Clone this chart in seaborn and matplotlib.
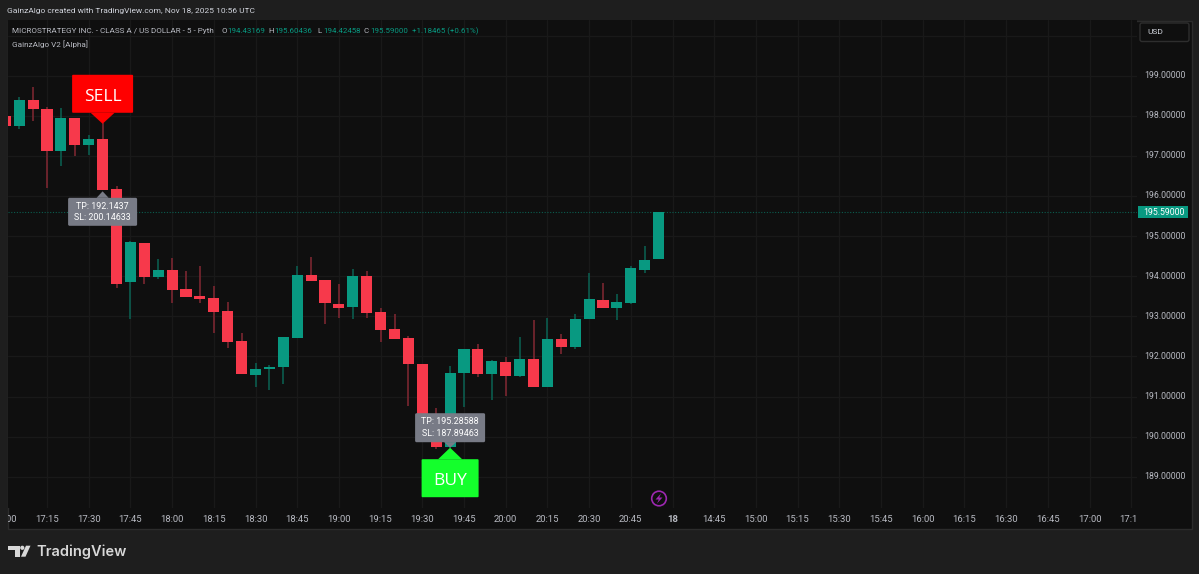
import numpy as np
import pandas as pd
import matplotlib
matplotlib.use("Agg")
import matplotlib.pyplot as plt
import seaborn as sns
from matplotlib.patches import Circle, FancyBboxPatch, Polygon, Rectangle
from matplotlib.transforms import Bbox

# 5 minute candles, bar 0 is 17:15
bar_open = [197.995, 197.746, 198.394, 198.162, 197.122, 197.953, 197.272, 197.422,
            196.167, 193.855, 194.835, 193.987, 194.154, 193.673, 193.506, 193.456,
            193.132, 192.376, 191.536, 191.678, 191.728, 192.466, 194.022, 193.898,
            193.314, 193.224, 193.997, 193.099, 192.683, 192.459, 191.822, 190.413,
            189.748, 191.578, 192.184, 191.561, 191.867, 191.518, 191.935, 191.244,
            192.441, 192.242, 192.925, 193.414, 193.214, 193.331, 194.154, 194.43169]
bar_high = [197.995, 198.476, 198.726, 198.212, 198.187, 197.953, 197.521, 197.821,
            196.242, 194.878, 194.835, 194.421, 194.446, 194.130, 194.254, 193.755,
            193.356, 192.591, 191.828, 191.778, 192.483, 194.254, 194.479, 193.898,
            193.805, 194.179, 194.122, 193.214, 193.065, 192.508, 191.822, 190.713,
            191.768, 192.184, 192.301, 191.917, 191.992, 192.491, 192.915, 192.965,
            192.558, 193.065, 194.080, 193.838, 193.556, 194.254, 194.753, 195.60436]
bar_low = [197.746, 197.663, 197.878, 196.192, 196.748, 197.005, 197.023, 196.142,
           193.706, 192.925, 193.805, 193.930, 193.331, 193.474, 193.339, 192.576,
           192.217, 191.561, 191.236, 191.169, 191.311, 192.466, 193.888, 192.808,
           192.957, 192.940, 192.957, 192.351, 192.441, 190.763, 190.413, 189.690,
           189.723, 190.738, 191.493, 190.912, 191.019, 191.478, 191.244, 191.244,
           192.052, 192.192, 192.925, 193.214, 192.915, 193.299, 194.087, 194.42458]
bar_close = [197.746, 198.394, 198.162, 197.122, 197.953, 197.272, 197.422, 196.142,
             193.805, 194.853, 193.987, 194.154, 193.656, 193.488, 193.439, 193.114,
             192.366, 191.561, 191.685, 191.735, 192.476, 194.022, 193.888, 193.324,
             193.214, 193.997, 193.089, 192.650, 192.441, 191.810, 190.413, 189.748,
             191.593, 192.184, 191.561, 191.885, 191.511, 191.935, 191.244, 192.441,
             192.242, 192.932, 193.431, 193.214, 193.349, 194.197, 194.411, 195.59]
first_bar = -3

time_labels = ["17:00", "17:15", "17:30", "17:45", "18:00", "18:15", "18:30", "18:45",
               "19:00", "19:15", "19:30", "19:45", "20:00", "20:15", "20:30", "20:45",
               "18", "14:45", "15:00", "15:15", "15:30", "15:45", "16:00", "16:15",
               "16:30", "16:45", "17:00", "17:15"]
price_ticks = [189, 190, 191, 192, 193, 194, 195, 196, 197, 198, 199]
last_price = 195.59

UP = "#089981"
DOWN = "#f7394b"
UP_WICK = "#0b5c4e"
DOWN_WICK = "#7a2630"
BG = "#1e1e1e"
PANE = "#0f0f0f"
GRID = "#191919"
TEXT = "#b8bac2"

sns.set_theme(style="dark", rc={"axes.facecolor": PANE, "figure.facecolor": BG})
plt.rcParams["font.family"] = ["Roboto", "DejaVu Sans"]

df = pd.DataFrame({"open": bar_open, "high": bar_high, "low": bar_low, "close": bar_close})
df["bar"] = np.arange(len(df)) + first_bar
df["up"] = df["close"] >= df["open"]
df["body"] = (df["close"] - df["open"]).abs()
df["base"] = df[["open", "close"]].min(axis=1)

fig = plt.figure(figsize=(11.99, 5.74), dpi=100)
W, H = 1199, 574
ax = fig.add_axes([8 / W, (H - 508) / H, 1129 / W, 488 / H])
ax.set_facecolor(PANE)

# frame and outer panels sit behind the chart
back = fig.add_axes([0, 0, 1, 1], zorder=-1)
back.set_xlim(0, W)
back.set_ylim(H, 0)
back.axis("off")
back.add_patch(Rectangle((7.5, 20.5), 1184, 508, fc=PANE, ec="#2c2c2c", lw=1))

ax.vlines(df["bar"], df["low"], df["high"], colors=np.where(df["up"], UP_WICK, DOWN_WICK),
          lw=1.2, zorder=2)
for is_up, color in [(True, UP), (False, DOWN)]:
    sub = df[df["up"] == is_up]
    sns.barplot(data=sub, x="bar", y="body", bottom=sub["base"].values, native_scale=True,
                color=color, saturation=1, width=0.8, errorbar=None, ax=ax, zorder=3,
                linewidth=0)

ax.set_xlim((8 - 47) / 13.9, (1137 - 47) / 13.9)
ax.set_ylim(196 - 312 / 40.1, 196 + 176 / 40.1)
ax.set_xlabel("")
ax.set_ylabel("")
for side in ax.spines.values():
    side.set_visible(False)

tick_bars = first_bar + np.arange(len(time_labels)) * 3
ax.set_xticks(tick_bars[1:])
ax.set_yticks(price_ticks + [200])
ax.grid(True, color=GRID, lw=0.9)
ax.set_axisbelow(True)
ax.tick_params(axis="x", length=0, labelbottom=False)
ax.tick_params(axis="y", length=0, labelleft=False)

ax.axhline(last_price, color="#0b5c4e", lw=0.8, ls=(0, (1, 1.5)), zorder=1)

top = fig.add_axes([0, 0, 1, 1], zorder=5)
top.set_xlim(0, W)
top.set_ylim(H, 0)
top.axis("off")
top.patch.set_alpha(0)

# time axis labels, the outer two get cut by the pane edges
clip = Bbox([[8, 30], [1137, 60]])
x_trans = ax.get_xaxis_transform()
for b, lab in zip(tick_bars, time_labels):
    t = ax.text(b, -11 / 488, lab, transform=x_trans, ha="center", va="center", color=TEXT,
                fontsize=6.8, fontweight="bold" if lab == "18" else "normal", clip_on=True)
    t.set_clip_box(clip)

for p in price_ticks:
    ax.text(1 + 7 / 1129, p, f"{p:.5f}", transform=ax.get_yaxis_transform(), ha="left",
            va="center", color=TEXT, fontsize=6.3, clip_on=False)


def anchor(bar, price):
    px, py = ax.transData.transform((bar, price))
    return px, H - py


def callout(bar, price, side, tip_gap, tip_h, base_half, box_w, box_h, color, radius):
    # tag with a small pointer towards the bar, side=-1 goes up, side=1 goes down
    px, py = anchor(bar, price)
    tip = py + side * tip_gap
    base = tip + side * tip_h
    top.add_patch(Polygon([(px, tip), (px - base_half, base), (px + base_half, base)],
                          fc=color, ec="none"))
    y0 = base if side > 0 else base - box_h
    top.add_patch(FancyBboxPatch((px - box_w / 2 + radius, y0 + radius), box_w - 2 * radius,
                                 box_h - 2 * radius, boxstyle=f"round,pad={radius}", fc=color,
                                 ec="none"))
    return px, y0 + box_h / 2


# SELL tag above bar 4
cx, cy = callout(4, bar_high[7], -1, -0.8, 11, 12, 61, 38, "#ff0000", 1)
top.text(cx, cy + 3.5, "SELL", color="white", fontsize=12.5, ha="center", va="center",
         fontfamily=["Open Sans"])
cx, cy = callout(4, bar_low[7], 1, 1, 6.5, 6, 69, 28, "#787b86", 1.5)
top.text(cx, cy - 5.5, "TP: 192.1437", color="white", fontsize=6.4, ha="center", va="center")
top.text(cx, cy + 5.5, "SL: 200.14633", color="white", fontsize=6.4, ha="center", va="center")

# BUY tag under bar 29
cx, cy = callout(29, bar_low[32], 1, 0, 11.5, 12, 57, 38, "#14ff2c", 1)
top.text(cx, cy + 2.5, "BUY", color="white", fontsize=12.5, ha="center", va="center",
         fontfamily=["Open Sans"])
cx, cy = callout(29, bar_low[32], -1, 0, 5.5, 6, 70, 29, "#787b86", 1.5)
top.text(cx, cy - 6, "TP: 195.28588", color="white", fontsize=6.4, ha="center", va="center")
top.text(cx, cy + 5.5, "SL: 187.89463", color="white", fontsize=6.4, ha="center", va="center")

# header lines
top.text(7, 11, "GainzAlgo created with TradingView.com, Nov 18, 2025 10:56 UTC",
         color="#d1d4dc", fontsize=6.0, va="center")
top.text(12, 31, "MICROSTRATEGY INC. - CLASS A / US DOLLAR - 5 - Pyth", color=TEXT, fontsize=5.85,
         va="center")
for x, lab, val in [(221, "O", "194.43169"), (268.5, "H", "195.60436"),
                    (317, "L", "194.42458"), (364, "C", "195.59000")]:
    top.text(x, 31, lab, color=TEXT, fontsize=5.7, va="center")
    top.text(x + 6, 31, val, color=UP, fontsize=5.7, va="center")
top.text(412, 31, "+1.18465 (+0.61%)", color=UP, fontsize=5.7, va="center")
top.text(12, 44, "GainzAlgo V2 [Alpha]", color=TEXT, fontsize=5.85, va="center")

# currency box and last price tag
top.add_patch(FancyBboxPatch((1142, 25), 45, 14.5, boxstyle="round,pad=2", fc=PANE, ec="#2e2e2e",
                             lw=1))
top.text(1147, 32, "USD", color="#d1d4dc", fontsize=6.0, va="center")
_, tag_y = anchor(0, last_price)
top.add_patch(Rectangle((1138, tag_y - 6), 50, 12, fc=UP, ec="none"))
top.text(1164, tag_y, "195.59000", color="white", fontsize=6.3, ha="center", va="center")

# lightning badge
top.add_patch(Circle((659, 498.5), 7.3, fc="none", ec="#9c27b0", lw=1.2))
top.add_patch(Polygon([(661, 493.5), (655.5, 499.5), (658.8, 499.5), (657, 503.5), (662.5, 497.5),
                       (659.2, 497.5)], fc="#9c27b0", ec="none"))

# TradingView logo
top.add_patch(Polygon([(8.3, 545.7), (20, 545.7), (20, 556.7), (15, 556.7), (15, 550), (8.3, 550)],
                      fc="#d8d8d8", ec="none"))
top.add_patch(Circle((22.3, 547.8), 2.1, fc="#d8d8d8", ec="none"))
top.add_patch(Polygon([(26, 545.7), (30.5, 545.7), (25.5, 556.7), (21, 556.7)], fc="#d8d8d8",
                      ec="none"))
top.text(36, 551.5, "TradingView", color="#d8d8d8", fontsize=10.5, fontweight="semibold",
         fontfamily=["Inter"], va="center")

fig.savefig("out.png", dpi=100, facecolor=BG)
